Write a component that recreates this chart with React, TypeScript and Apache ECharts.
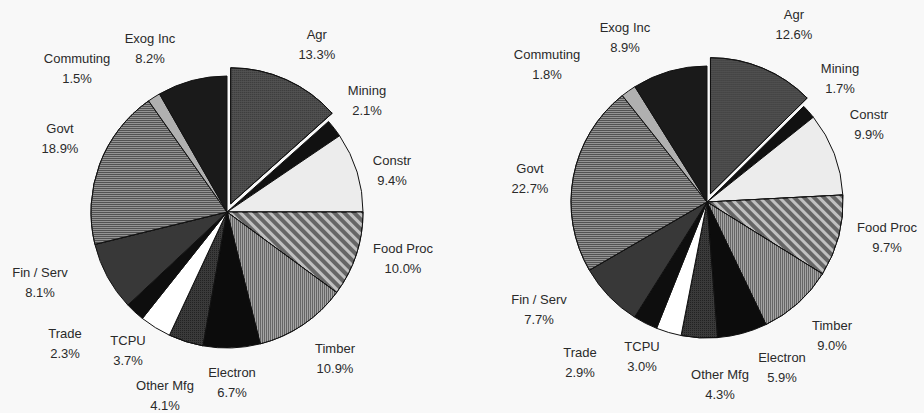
import React, { useEffect, useRef } from "react";
import * as echarts from "echarts";

const categories = [
  "Agr", "Mining", "Constr", "Food Proc", "Timber", "Electron", "Other Mfg",
  "TCPU", "Trade", "Fin / Serv", "Govt", "Commuting", "Exog Inc",
];
const leftValues = [13.3, 2.1, 9.4, 10.0, 10.9, 6.7, 4.1, 3.7, 2.3, 8.1, 18.9, 1.5, 8.2];
const rightValues = [12.6, 1.7, 9.9, 9.7, 9.0, 5.9, 4.3, 3.0, 2.9, 7.7, 22.7, 1.8, 8.9];

// layout (not data): pie centres and label centre offsets relative to pie centre
const LEFT_CENTER = [227, 212];
const RIGHT_CENTER = [707, 202];
const RADIUS = 136;
const leftLabelOffsets = [
  [90, -167], [140, -112], [165, -42], [176, 46], [108, 146], [5, 170], [-62, 183],
  [-99, 138], [-162, 131], [-187, 70], [-167, -74], [-150, -144], [-77, -164],
];
const rightLabelOffsets = [
  [87, -177], [133, -124], [162, -78], [180, 35], [125, 133], [75, 165], [13, 182],
  [-65, 154], [-127, 160], [-168, 107], [-177, -24], [-160, -138], [-82, -165],
];
// exploded slice label: placed by the pie's own outside layout
const leftAgrLabel = { length: 38, distance: -5 };
const rightAgrLabel = { length: 47, distance: -7 };

const sliceStyles: any[] = [
  { color: "#555555", decal: { symbol: "rect", symbolSize: 1, dashArrayX: [1, 1], dashArrayY: [1, 1], color: "#2a2a2a" } },
  { color: "#111111" },
  { color: "#ececec" },
  { color: "#666666", decal: { symbol: "rect", symbolSize: 1, dashArrayX: [1, 0], dashArrayY: [3, 4], rotation: Math.PI / 4, color: "#c0c0c0" } },
  { color: "#666666", decal: { symbol: "rect", symbolSize: 1, dashArrayX: [1, 0], dashArrayY: [1, 1], rotation: Math.PI / 2, color: "#a4a4a4" } },
  { color: "#0c0c0c" },
  { color: "#3a3a3a", decal: { symbol: "rect", symbolSize: 1, dashArrayX: [1, 1], dashArrayY: [1, 1], color: "#222222" } },
  { color: "#ffffff" },
  { color: "#0e0e0e" },
  { color: "#383838" },
  { color: "#939393", decal: { symbol: "rect", symbolSize: 1, dashArrayX: [1, 0], dashArrayY: [1, 1], color: "#525252" } },
  { color: "#b0b0b0" },
  { color: "#1a1a1a" },
];

function buildData(values: number[], agr: { length: number; distance: number }) {
  return categories.map((name, i) => {
    const item: any = {
      name,
      value: values[i],
      selected: i === 0,
      itemStyle: { ...sliceStyles[i] },
    };
    if (i === 0) {
      item.label = {
        formatter: (p: any) => `{c|${p.name}}\n{c|${Number(p.value).toFixed(1)}%}`,
        distanceToLabelLine: agr.distance,
        rich: {
          c: {
            width: 40,
            align: "center",
            fontFamily: "Liberation Sans, Arial, sans-serif",
            fontSize: 13,
            lineHeight: 20,
            color: "#2a2a2a",
          },
        },
      };
      item.labelLine = { show: false, length: agr.length, length2: 0 };
    }
    return item;
  });
}

function makeSeries(
  values: number[],
  center: number[],
  offsets: number[][],
  agr: { length: number; distance: number }
) {
  return {
    type: "pie",
    center,
    radius: RADIUS,
    startAngle: 90,
    clockwise: true,
    selectedMode: "single",
    selectedOffset: 9,
    avoidLabelOverlap: false,
    silent: true,
    itemStyle: { borderColor: "#111111", borderWidth: 1 },
    label: {
      show: true,
      position: "outside",
      formatter: (p: any) => `${p.name}\n${Number(p.value).toFixed(1)}%`,
      fontFamily: "Liberation Sans, Arial, sans-serif",
      fontSize: 13,
      lineHeight: 20,
      color: "#2a2a2a",
      align: "center",
    },
    labelLine: { show: false },
    labelLayout: (params: any) => {
      if (params.dataIndex === 0) return {};
      const o = offsets[params.dataIndex];
      return {
        x: center[0] + o[0],
        y: center[1] + o[1],
        align: "center",
        verticalAlign: "middle",
      };
    },
    data: buildData(values, agr),
  };
}

export default function App() {
  const ref = useRef<HTMLDivElement>(null);
  useEffect(() => {
    if (!ref.current) return;
    const chart = echarts.init(ref.current, undefined, { renderer: "svg" });
    chart.setOption({
      animation: false,
      backgroundColor: "#f8f8f8",
      series: [
        makeSeries(leftValues, LEFT_CENTER, leftLabelOffsets, leftAgrLabel),
        makeSeries(rightValues, RIGHT_CENTER, rightLabelOffsets, rightAgrLabel),
      ],
    });
    return () => chart.dispose();
  }, []);
  return (
    <div
      ref={ref}
      style={{ position: "fixed", left: 0, top: 0, width: 924, height: 413 }}
    />
  );
}
